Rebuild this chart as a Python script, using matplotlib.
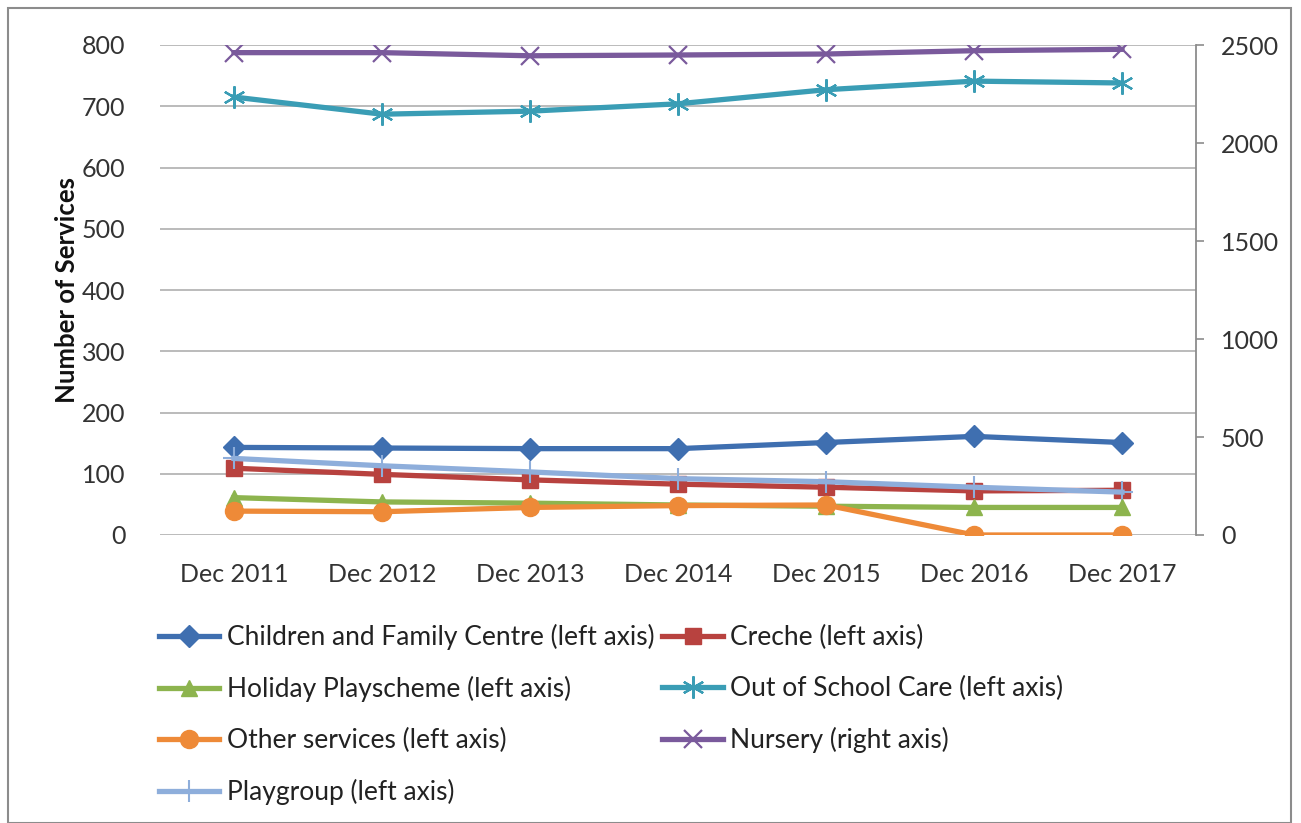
import matplotlib
matplotlib.use("Agg")
import matplotlib.pyplot as plt
from matplotlib.patches import Rectangle

categories = ["Dec 2011", "Dec 2012", "Dec 2013", "Dec 2014", "Dec 2015", "Dec 2016", "Dec 2017"]
children_family = [143, 142, 141, 141, 151, 161, 151]
creche = [109, 99, 90, 83, 78, 72, 73]
holiday = [61, 54, 52, 49, 47, 45, 45]
out_of_school = [715, 687, 692, 704, 727, 741, 738]
other_services = [39, 38, 45, 48, 49, 0, 0]
nursery = [2461, 2461, 2445, 2449, 2454, 2471, 2478]
playgroup = [125, 113, 103, 92, 87, 78, 70]

left_ticks = [0, 100, 200, 300, 400, 500, 600, 700, 800]
right_ticks = [0, 500, 1000, 1500, 2000, 2500]

plt.rcParams['font.family'] = ['Lato', 'DejaVu Sans']

fig = plt.figure(figsize=(13.01, 8.23), dpi=100)
fig.patches.append(Rectangle((8/1301, 0), 1283/1301, 815/823, transform=fig.transFigure,
                             fill=False, edgecolor='#8c8c8c', linewidth=1.5))

ax = fig.add_axes([160/1301, 1 - 535/823, (1196 - 160)/1301, (535 - 45)/823])
ax2 = ax.twinx()

x = list(range(len(categories)))
lw = 3.8
h_cf, = ax.plot(x, children_family, color='#3F6FB0', lw=lw, marker='D', ms=11, label='Children and Family Centre (left axis)')
h_cr, = ax.plot(x, creche, color='#B8423F', lw=lw, marker='s', ms=12, label='Creche (left axis)')
h_pg, = ax.plot(x, playgroup, color='#8EAEDB', lw=lw, marker='+', ms=16, mew=1.5, label='Playgroup (left axis)')
h_hp, = ax.plot(x, holiday, color='#8DB44E', lw=lw, marker='^', ms=12, label='Holiday Playscheme (left axis)')
h_os, = ax.plot(x, other_services, color='#EE8A38', lw=lw, marker='o', ms=13, label='Other services (left axis)')
h_osc, = ax.plot(x, out_of_school, color='#3A9DB5', lw=lw, marker=(6, 2, 0), ms=16, mew=1.6, label='Out of School Care (left axis)')
h_nu, = ax2.plot(x, nursery, color='#7A5A9C', lw=lw, marker='x', ms=13, mew=1.6, label='Nursery (right axis)')

ax.set_xlim(-0.5, len(categories) - 0.5)
ax.set_ylim(0, 800)
ax2.set_ylim(0, 2500)
ax.set_yticks(left_ticks)
ax2.set_yticks(right_ticks)
ax.set_xticks(x)
ax.set_xticklabels(categories)
ax.grid(axis='y', color='#b5b5b5', lw=1.3)
ax.set_axisbelow(True)
for s in ['top', 'left', 'bottom', 'right']:
    ax.spines[s].set_visible(False)
for s in ['top', 'left', 'bottom']:
    ax2.spines[s].set_visible(False)
ax2.spines['right'].set_color('#8c8c8c')
ax2.spines['right'].set_linewidth(1.3)
ax.tick_params(axis='y', length=0, pad=25, labelsize=18, labelcolor='#333333')
ax.tick_params(axis='x', length=0, pad=20, labelsize=18, labelcolor='#333333')
ax2.tick_params(axis='y', length=6, color='#8c8c8c', width=1.2, pad=12, labelsize=18, labelcolor='#333333')
ax.set_ylabel('Number of Services', fontsize=18.5, fontweight='bold', labelpad=2, color='#111111')

handles = [h_cf, h_hp, h_os, h_pg, h_cr, h_osc, h_nu]
fig.legend(handles=handles, labels=[h.get_label() for h in handles], ncol=2,
           loc='upper left', bbox_to_anchor=(135/1301, 1 - 600/823), frameon=False,
           fontsize=19, handlelength=2.3, handletextpad=0.28, columnspacing=0.3,
           labelspacing=0.98, labelcolor='#222222')

fig.savefig('out.png', dpi=100)
